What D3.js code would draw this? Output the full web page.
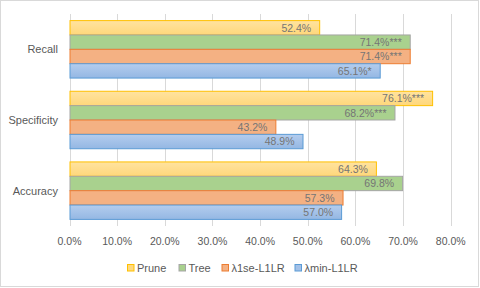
<!DOCTYPE html>
<html><head><meta charset="utf-8">
<script src="https://cdn.jsdelivr.net/npm/d3@7"></script>
<style>body{margin:0;background:#fff}svg{display:block;font-family:"Liberation Sans",Arial,sans-serif}</style>
</head><body><svg id="c" width="480" height="288"></svg>
<script>
const categories = ["Recall", "Specificity", "Accuracy"];
const seriesNames = ["Prune", "Tree", "λ1se-L1LR", "λmin-L1LR"];
const prune = [52.4, 76.1, 64.3];
const tree = [71.4, 68.2, 69.8];
const l1se = [71.4, 43.2, 57.3];
const lmin = [65.1, 48.9, 57.0];
const pruneLabels = ["52.4%", "76.1%***", "64.3%"];
const treeLabels = ["71.4%***", "68.2%***", "69.8%"];
const l1seLabels = ["71.4%***", "43.2%", "57.3%"];
const lminLabels = ["65.1%*", "48.9%", "57.0%"];
const xTicks = [0, 10, 20, 30, 40, 50, 60, 70, 80];

const seriesValues = [prune, tree, l1se, lmin];
const seriesLabels = [pruneLabels, treeLabels, l1seLabels, lminLabels];
const fills = ["url(#gPrune)", "#A9D18E", "#F4B183", "url(#gMin)"];
const strokes = ["#FFC000", "#A5A5A5", "#ED7D31", "#5B9BD5"];
const legendFills = ["#FFD97F", "#A9D18E", "#F4B183", "#A3C1E8"];

const svg = d3.select("#c");
const defs = svg.append("defs");
function grad(id, c1, c2){
  const g = defs.append("linearGradient").attr("id", id).attr("x1",0).attr("y1",0).attr("x2",0).attr("y2",1);
  g.append("stop").attr("offset","0%").attr("stop-color",c1);
  g.append("stop").attr("offset","100%").attr("stop-color",c2);
}
grad("gPrune", "#FFE3A0", "#FFD77A");
grad("gMin", "#B4CDEE", "#94B7E3");

svg.append("rect").attr("x",0.5).attr("y",0.5).attr("width",478).attr("height",286)
  .attr("fill","#fff").attr("stroke","#D9D9D9");

const x = d3.scaleLinear().domain([0, 80]).range([69.5, 450.7]);
const y = d3.scaleBand().domain(categories).range([14, 226]).padding(0);
const ys = d3.scaleBand().domain(seriesNames).range([6.6, y.bandwidth() - 6.6]).padding(0);

// gridlines
svg.append("g").selectAll("line").data(xTicks).join("line")
  .attr("x1", d => Math.round(x(d)) + 0.5).attr("x2", d => Math.round(x(d)) + 0.5)
  .attr("y1", 14).attr("y2", 226).attr("stroke", "#D9D9D9");

// tick labels
svg.append("g").selectAll("text").data(xTicks).join("text")
  .attr("x", d => x(d)).attr("y", 241).attr("dy", "0.35em").attr("text-anchor","middle")
  .attr("font-size", 10.5).attr("fill", "#595959").text(d => d.toFixed(1) + "%");

// category labels
svg.append("g").selectAll("text").data(categories).join("text")
  .attr("x", 58).attr("y", d => y(d) + y.bandwidth()/2).attr("dy","0.35em")
  .attr("text-anchor","end").attr("font-size", 11).attr("fill","#595959").text(d => d);

// bars
seriesNames.forEach((s, si) => {
  const g = svg.append("g");
  const data = categories.map((c, ci) => ({c, v: seriesValues[si][ci], l: seriesLabels[si][ci]}));
  g.selectAll("rect").data(data).join("rect")
    .attr("x", x(0) + 0.5).attr("y", d => y(d.c) + ys(s))
    .attr("width", d => x(d.v) - x(0)).attr("height", ys.bandwidth())
    .attr("fill", fills[si]).attr("stroke", strokes[si]).attr("stroke-width", 1);
  g.selectAll("text").data(data).join("text")
    .attr("x", d => x(d.v) - 8).attr("y", d => y(d.c) + ys(s) + ys.bandwidth()/2).attr("dy","0.36em")
    .attr("text-anchor","end").attr("font-size", 10.5).attr("fill","#757575").text(d => d.l);
});

// legend
const legX = [127, 178.5, 221.5, 294.5];
const lg = svg.append("g");
seriesNames.forEach((s, i) => {
  lg.append("rect").attr("x", legX[i] + 0.5).attr("y", 264.5).attr("width", 6.5).attr("height", 6.5)
    .attr("fill", legendFills[i]).attr("stroke", strokes[i]);
  lg.append("text").attr("x", legX[i] + 10).attr("y", 268).attr("dy","0.35em")
    .attr("font-size", 11).attr("fill","#595959").text(s);
});
</script></body></html>
